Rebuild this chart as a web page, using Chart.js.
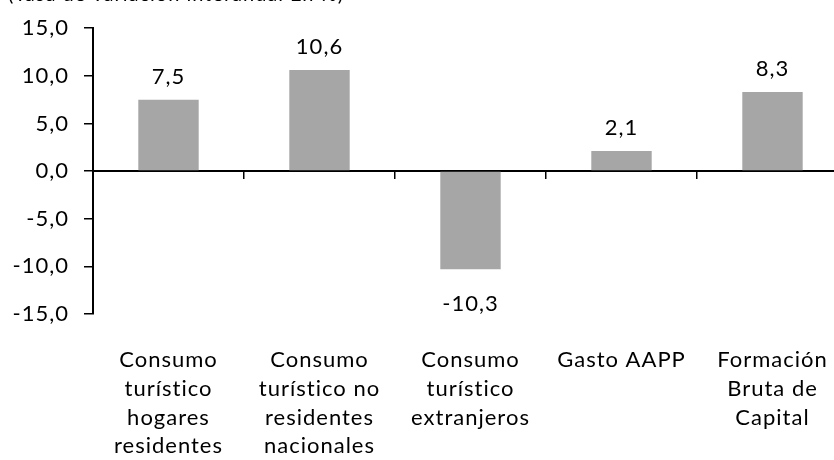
<!DOCTYPE html>
<html>
<head>
<meta charset="utf-8">
<script src="https://cdn.jsdelivr.net/npm/chart.js@4"></script>
<style>
  html, body { margin: 0; padding: 0; background: #fff; overflow: hidden; }
  #wrap { position: relative; width: 850px; height: 460px; }
</style>
</head>
<body>
<div id="wrap"><canvas id="barChart"></canvas></div>
<script>
var categories = [
    ['Consumo', 'turístico', 'hogares', 'residentes'],
    ['Consumo', 'turístico no', 'residentes', 'nacionales'],
    ['Consumo', 'turístico', 'extranjeros'],
    ['Gasto AAPP'],
    ['Formación', 'Bruta de', 'Capital']
];
var values = [7.5, 10.6, -10.3, 2.1, 8.3];
var yTicks = { min: -15, max: 15, step: 5 };
var subtitle = '(Tasa de variación interanual En %)';

function fmt(v) {
    return v.toFixed(1).replace('.', ',');
}

var fontFamily = 'Lato, "Open Sans", sans-serif';

// letter spacing like the original rendering
var spacingPlugin = {
    id: 'spacing',
    beforeDraw: function(chart) {
        chart.ctx.letterSpacing = '1px';
    }
};

// value labels above / below each bar
var valueLabels = {
    id: 'valueLabels',
    afterDatasetsDraw: function(chart) {
        var ctx = chart.ctx;
        var meta = chart.getDatasetMeta(0);
        ctx.save();
        ctx.font = '22px ' + fontFamily;
        ctx.fillStyle = '#000';
        ctx.textAlign = 'center';
        meta.data.forEach(function(bar, i) {
            var v = values[i];
            if (v >= 0) {
                ctx.textBaseline = 'bottom';
                ctx.fillText(fmt(v), bar.x, bar.y - 12);
            } else {
                ctx.textBaseline = 'top';
                ctx.fillText(fmt(v), bar.x, bar.y + 24);
            }
        });
        ctx.restore();
    }
};

// cut-off subtitle at the very top
var subtitlePlugin = {
    id: 'subtitle',
    afterDraw: function(chart) {
        var ctx = chart.ctx;
        ctx.save();
        ctx.font = '20px ' + fontFamily;
        ctx.fillStyle = '#000';
        ctx.textAlign = 'left';
        ctx.textBaseline = 'alphabetic';
        ctx.fillText(subtitle, 8, 1);
        ctx.restore();
    }
};

var ctx = document.getElementById('barChart').getContext('2d');
var barChart = new Chart(ctx, {
    type: 'bar',
    data: {
        labels: categories,
        datasets: [{
            data: values,
            backgroundColor: '#A6A6A6',
            borderWidth: 0,
            categoryPercentage: 1,
            barPercentage: 0.4
        }]
    },
    options: {
        responsive: true,
        maintainAspectRatio: false,
        animation: false,
        layout: { padding: { top: 24, right: 2, bottom: 0, left: 0 } },
        plugins: {
            legend: { display: false },
            tooltip: { enabled: false }
        },
        scales: {
            x: {
                type: 'category',
                position: 'bottom',
                grid: { display: false },
                border: { display: false },
                ticks: {
                    color: '#000',
                    font: { family: fontFamily, size: 22, lineHeight: 1.3 },
                    padding: 24,
                    maxRotation: 0,
                    autoSkip: false
                },
                afterFit: function(scale) { scale.height = 146; }
            },
            x2: {
                type: 'category',
                position: { y: 0 },
                grid: {
                    offset: true,
                    drawOnChartArea: false,
                    drawTicks: true,
                    tickLength: 7,
                    color: '#000',
                    lineWidth: 1.5
                },
                border: { display: true, color: '#000', width: 2 },
                ticks: { display: false }
            },
            y: {
                min: yTicks.min,
                max: yTicks.max,
                ticks: {
                    stepSize: yTicks.step,
                    color: '#000',
                    font: { family: fontFamily, size: 22 },
                    padding: 15,
                    callback: function(v) { return fmt(v); }
                },
                grid: {
                    drawOnChartArea: false,
                    drawTicks: true,
                    tickLength: 9,
                    color: '#000',
                    lineWidth: 1.5
                },
                border: { display: true, color: '#000', width: 2 },
                afterFit: function(scale) { scale.width = 93; }
            }
        }
    },
    plugins: [spacingPlugin, valueLabels, subtitlePlugin]
});
</script>
</body>
</html>
